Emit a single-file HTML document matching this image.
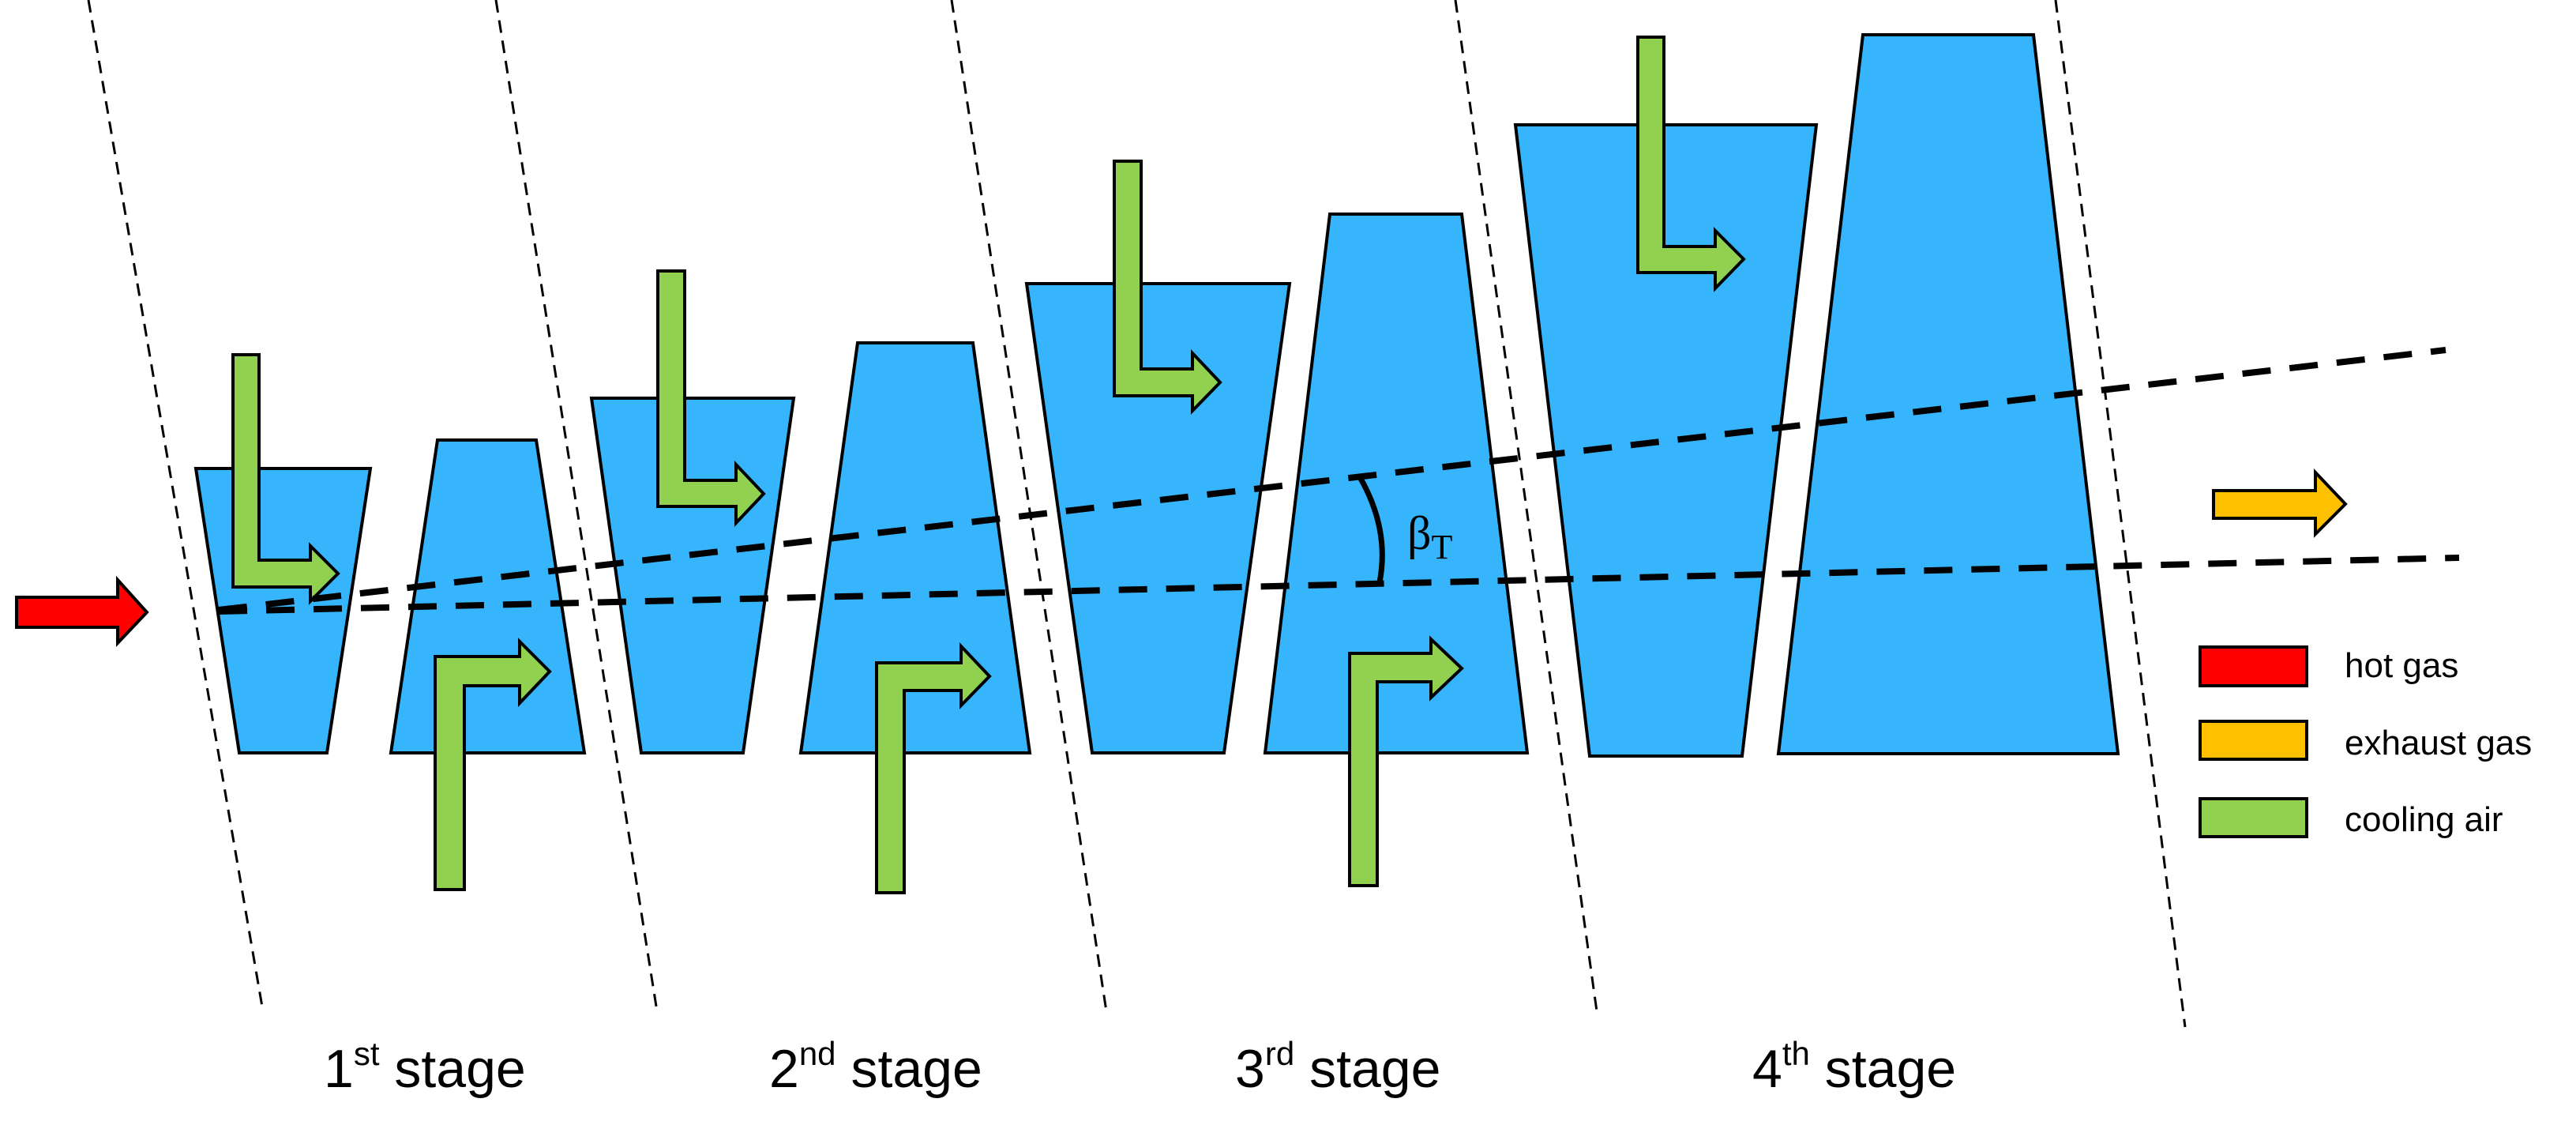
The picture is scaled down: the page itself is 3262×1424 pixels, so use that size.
<!DOCTYPE html>
<html><head><meta charset="utf-8"><style>html,body{margin:0;padding:0;background:#fff}svg{display:block}</style></head>
<body>
<svg width="3262" height="1424" viewBox="0 0 3262 1424" xmlns="http://www.w3.org/2000/svg">
<g fill="#36b4fc" stroke="#000" stroke-width="4" stroke-linejoin="miter">
<polygon points="248,593 469,593 414,953 303,953"/>
<polygon points="554,557 679,557 740,953 495,953"/>
<polygon points="749,504 1005,504 941,953 812,953"/>
<polygon points="1086,434 1232,434 1304,953 1014,953"/>
<polygon points="1300,359 1633,359 1550,953 1383,953"/>
<polygon points="1684,271 1851,271 1934,953 1602,953"/>
<polygon points="1919,158 2300,158 2206,957 2013,957"/>
<polygon points="2359,44 2575,44 2682,954 2252,954"/>
</g>
<g fill="#92d050" stroke="#000" stroke-width="4">
<polygon points="295,449 295,743 393,743 393,761 428,726 393,691 393,709 328,709 328,449"/>
<polygon points="551,1126 551,831 658,831 658,812 696,850 658,890 658,868 588,868 588,1126"/>
<polygon points="833,343 833,641 932,641 932,662 967,625 932,588 932,608 867,608 867,343"/>
<polygon points="1110,1130 1110,839 1217,839 1217,818 1253,856 1217,893 1217,874 1145,874 1145,1130"/>
<polygon points="1411,204 1411,501 1510,501 1510,520 1545,484 1510,447 1510,467 1445,467 1445,204"/>
<polygon points="1709,1121 1709,827 1812,827 1812,809 1851,846 1812,883 1812,863 1744,863 1744,1121"/>
<polygon points="2074,47 2074,345 2172,345 2172,365 2208,328 2172,292 2172,312 2107,312 2107,47"/>
</g>
<polygon points="21,756 149,756 149,734 186,775 149,814 149,794 21,794" fill="#ff0000" stroke="#000" stroke-width="4"/>
<polygon points="2803,621 2932,621 2932,598 2970,638 2932,676 2932,656 2803,656" fill="#ffc000" stroke="#000" stroke-width="4"/>
<g stroke="#000" stroke-width="8" stroke-dasharray="36,24" fill="none">
<line x1="277" y1="772" x2="3097" y2="443"/>
<line x1="277" y1="774" x2="3114" y2="706"/>
</g>
<g stroke="#000" stroke-width="3" stroke-dasharray="16,10" fill="none">
<line x1="112" y1="0" x2="333" y2="1280"/>
<line x1="628" y1="0" x2="832" y2="1280"/>
<line x1="1205" y1="0" x2="1401" y2="1280"/>
<line x1="1843" y1="0" x2="2022" y2="1280"/>
<line x1="2603" y1="0" x2="2767" y2="1300"/>
</g>
<path d="M1722,604 Q1760,670 1747,737" stroke="#000" stroke-width="7" fill="none"/>
<text x="1782" y="695" font-family="Liberation Serif, serif" font-size="60">β<tspan font-size="44" dy="12">T</tspan></text>
<g stroke="#000" stroke-width="4">
<rect x="2786" y="819" width="135" height="49" fill="#ff0000"/>
<rect x="2786" y="913" width="135" height="48" fill="#ffc000"/>
<rect x="2786" y="1011" width="135" height="48" fill="#92d050"/>
</g>
<g font-family="Liberation Sans, sans-serif" font-size="44" fill="#000">
<text x="2969" y="857">hot gas</text>
<text x="2969" y="955">exhaust gas</text>
<text x="2969" y="1052">cooling air</text>
</g>
<g font-family="Liberation Sans, sans-serif" font-size="68" fill="#000">
<text x="410" y="1376">1<tspan font-size="42" dy="-28">st</tspan><tspan dy="28"> stage</tspan></text>
<text x="974" y="1376">2<tspan font-size="42" dy="-28">nd</tspan><tspan dy="28"> stage</tspan></text>
<text x="1564" y="1376">3<tspan font-size="42" dy="-28">rd</tspan><tspan dy="28"> stage</tspan></text>
<text x="2219" y="1376">4<tspan font-size="42" dy="-28">th</tspan><tspan dy="28"> stage</tspan></text>
</g>
</svg>
</body></html>
